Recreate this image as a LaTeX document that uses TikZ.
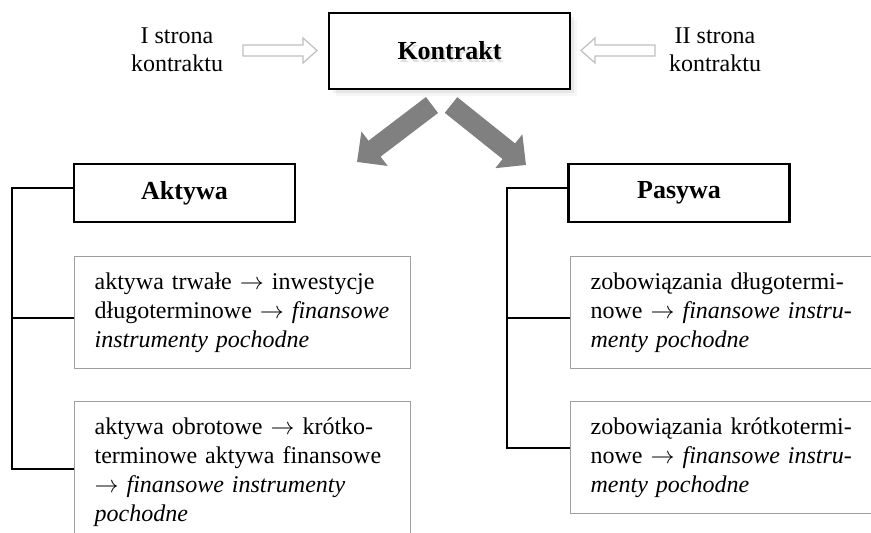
\documentclass[tikz,border=0pt]{standalone}
\usepackage{fontspec}
\setmainfont{Liberation Serif}
\usepackage{tikz}
\usetikzlibrary{calc,shadows,arrows.meta}

\begin{document}
\begin{tikzpicture}[x=0.5pt,y=-0.5pt,
    ktext/.style={font=\fontsize{13}{15}\selectfont\bfseries},
    headbox/.style={draw,line width=1.1pt,fill=white,minimum width=110.5pt,minimum height=29pt,ktext},
    itembox/.style={draw=gray!75,line width=0.6pt,anchor=north west,text width=148pt,
        inner xsep=10pt,inner ysep=8pt,align=left,font=\fontsize{12}{14.5}\selectfont},
    side/.style={align=center,font=\fontsize{12}{14}\selectfont},
    hollow/.style={draw=gray!50,line width=0.6pt,fill=white},
    bigarrow/.style={draw=gray,line width=10pt,-{Triangle[width=21pt,length=11pt]}},
    bracket/.style={line width=1pt}]
    \useasboundingbox (0,0) rectangle (871,533);
    \clip (0,0) rectangle (871,533);

    % contract in the middle
    \node[draw,line width=1.2pt,fill=white,minimum width=120.5pt,minimum height=38pt,
        drop shadow={shadow xshift=2pt,shadow yshift=-2pt,opacity=.12},
        drop shadow={shadow xshift=3.5pt,shadow yshift=-3.5pt,opacity=.07}] (kon) at (449.5,51) {};
    \node[ktext,text=gray!25] at ([shift={(1pt,-1.5pt)}]kon) {Kontrakt};
    \node[ktext] (kontxt) at (kon) {Kontrakt};

    \node[side] (s1) at (177,50) {I strona\\kontraktu};
    \node[side] (s2) at (715,50) {II strona\\kontraktu};

    % hollow arrows from both sides
    \draw[hollow,shift={(243,50.5)}] (0,-5.5) -- (60,-5.5) -- (60,-12.5) -- (74,0)
        -- (60,12.5) -- (60,5.5) -- (0,5.5) -- cycle;
    \draw[hollow,shift={(655,50.5)},xscale=-1] (0,-5.5) -- (60,-5.5) -- (60,-12.5) -- (74,0)
        -- (60,12.5) -- (60,5.5) -- (0,5.5) -- cycle;

    % big grey arrows
    \coordinate (lt) at (432,105);
    \coordinate (ltip) at (357,162);
    \coordinate (rt) at (451,105);
    \coordinate (rtip) at (526,165);
    \draw[bigarrow] (lt) -- (ltip);
    \draw[bigarrow] (rt) -- (rtip);

    \node[headbox] (akt) at (184.5,193) {Aktywa};
    \node[headbox] (pas) at (679,193) {Pasywa};

    \node[itembox] (a1) at (74,256) {aktywa trwałe $\rightarrow$ inwestycje\\
        długoterminowe $\rightarrow$ \textit{finansowe}\\
        \textit{instrumenty pochodne}};
    \node[itembox] (a2) at (74,401) {aktywa obrotowe $\rightarrow$ krótko-\\
        terminowe aktywa finansowe\\
        $\rightarrow$ \textit{finansowe instrumenty}\\
        \textit{pochodne}};
    \node[itembox,text width=135pt] (p1) at (570,256) {zobowiązania długotermi-\\
        nowe $\rightarrow$ \textit{finansowe instru-}\\
        \textit{menty pochodne}};
    \node[itembox,text width=135pt] (p2) at (570,401) {zobowiązania krótkotermi-\\
        nowe $\rightarrow$ \textit{finansowe instru-}\\
        \textit{menty pochodne}};

    % brackets
    \coordinate (abar) at (12,188);
    \coordinate (pbar) at (507,188);
    \draw[bracket] (akt.west |- abar) -- (abar) |- ([yshift=1.5pt]a2.west);
    \draw[bracket] ([yshift=-2.5pt]a1.west) -- ([yshift=-2.5pt]a1.west -| abar);
    \draw[bracket] (pas.west |- pbar) -- (pbar) |- ([yshift=5pt]p2.west);
    \draw[bracket] ([yshift=-2.5pt]p1.west) -- ([yshift=-2.5pt]p1.west -| pbar);
\end{tikzpicture}
\end{document}
